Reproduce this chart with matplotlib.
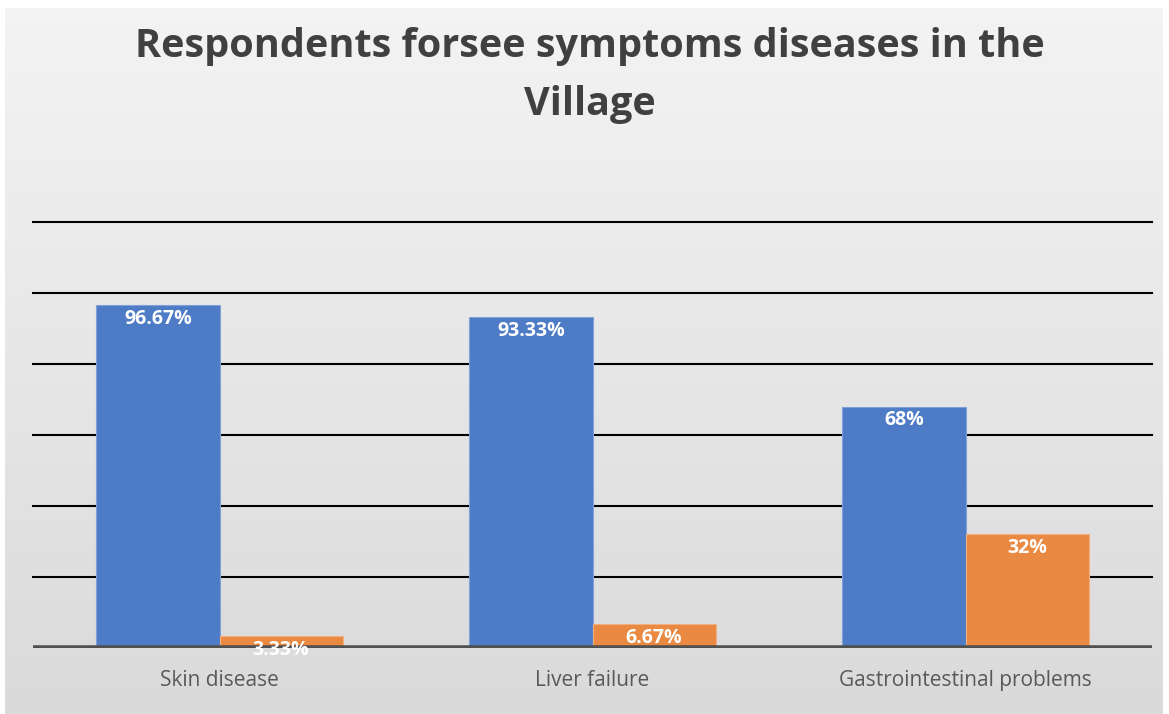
import numpy as np
import matplotlib.pyplot as plt

# data
categories = ["Skin disease", "Liver failure", "Gastrointestinal problems"]
yes_vals = [96.67, 93.33, 68]
no_vals = [3.33, 6.67, 32]
yes_labels = ["96.67%", "93.33%", "68%"]
no_labels = ["3.33%", "6.67%", "32%"]

fig = plt.figure(figsize=(11.69, 7.14), dpi=100)
fig.patch.set_facecolor("white")

# gradient background of the chart area
bg = fig.add_axes([0, 0, 1, 1], zorder=0)
grad = np.linspace(0.955, 0.855, 256).reshape(-1, 1)
bg.imshow(np.dstack([grad, grad, grad]), aspect="auto",
          extent=[5 / 1169, 1163 / 1169, 0, 1 - 8 / 714])
bg.set_xlim(0, 1)
bg.set_ylim(0, 1)
bg.axis("off")

ax = fig.add_axes([33 / 1169, 1 - 648 / 714, 1119 / 1169, (648 - 222) / 714], zorder=1)
ax.patch.set_alpha(0)

x = np.arange(len(categories))
w = 0.33
b1 = ax.bar(x - w / 2, yes_vals, w, color="#4E7BC6", edgecolor="#7FA0D8", linewidth=0.8, zorder=3)
b2 = ax.bar(x + w / 2, no_vals, w, color="#E98942", edgecolor="#F0B080", linewidth=0.8, zorder=3)

for bars, labs in [(b1, yes_labels), (b2, no_labels)]:
    for r, lab in zip(bars, labs):
        ax.annotate(lab, (r.get_x() + r.get_width() / 2, r.get_height()),
                    xytext=(0, -10), textcoords="offset points",
                    ha="center", va="center", color="white",
                    fontsize=14, fontweight="bold", family="Open Sans", zorder=5)

ax.set_xlim(-0.5, 2.5)
ax.set_ylim(0, 120)
ax.set_yticks(np.arange(20, 121, 20))
ax.yaxis.grid(True, color="black", linewidth=1.5, zorder=1)
for gl in ax.get_ygridlines():
    gl.set_clip_on(False)
ax.axhline(0, color="#505050", linewidth=4, zorder=4)
ax.tick_params(axis="y", left=False, labelleft=False)
ax.tick_params(axis="x", length=0, pad=16, labelsize=15, labelcolor="#595959")
ax.set_xticks(x)
ax.set_xticklabels(categories, family="Open Sans")
for s in ax.spines.values():
    s.set_visible(False)

fig.text(0.505, 1 - 47 / 714, "Respondents forsee symptoms diseases in the",
         ha="center", va="center", fontsize=28.5, fontweight="bold",
         color="#404040", family="Open Sans")
fig.text(0.505, 1 - 104 / 714, "Village",
         ha="center", va="center", fontsize=28.5, fontweight="bold",
         color="#404040", family="Open Sans")

fig.savefig("out.png", dpi=100)
